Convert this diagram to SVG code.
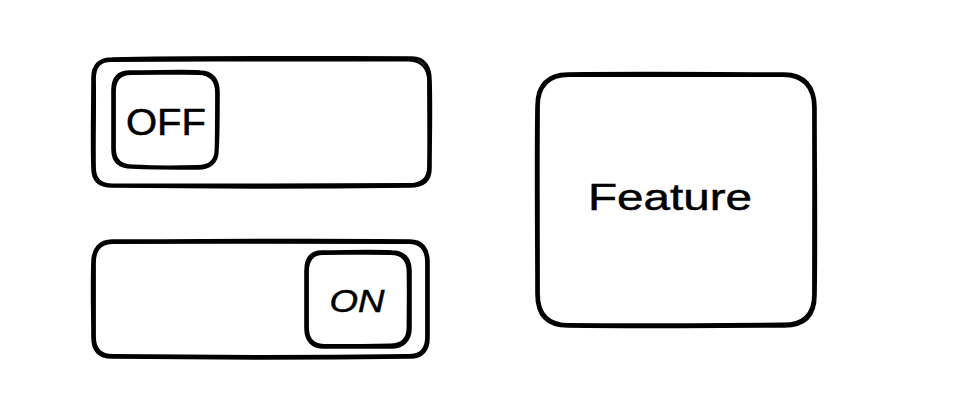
<svg xmlns="http://www.w3.org/2000/svg" width="956" height="414" viewBox="0 0 956 414">
<style>
.s{fill:none;stroke:#000;stroke-linecap:round;stroke-linejoin:round}
.a{stroke-width:3.6}
.b{stroke-width:2.8}
.t{font-family:"Comic Sans MS","Liberation Sans",sans-serif;fill:#000;stroke:#000;stroke-width:0.5;text-anchor:middle;dominant-baseline:central}
</style>
<rect width="956" height="414" fill="#fff"/>
<g id="off-track">
<path class="s a" d="M112 59 C200 57 330 58 412 58 C425 58 430 68 430 80 C431 110 430 140 430 168 C430 180 424 186 410 186 C320 187 200 187 112 186 C98 186 93 180 93 168 C92 140 93 110 93 78 C93 65 100 59 112 59 Z"/>
<path class="s b" d="M111 60.5 C210 60 320 60 409 60 C422 60.5 428.5 69 428.5 81 C428.5 112 429 142 428.5 167 C428.5 178 423 184.5 409 184.5 C320 184.5 200 185.5 113 185 C100 185 94.5 179 94.5 167 C94 140 95 110 94.5 79 C94.5 67 99 60.5 111 60.5 Z"/>
</g>
<g id="off-knob">
<path class="s a" d="M130 72 C160 72 185 71 200 72 C212 72 218 80 218 92 C218 112 218 135 217 150 C217 162 210 168 198 168 C175 168 152 168 132 167 C119 167 113 161 113 149 C113 130 113 110 113 90 C113 78 119 72 130 72 Z"/>
<path class="s b" d="M131 73.5 C160 73 185 73.5 199 73.5 C210.5 73.5 216.5 81 216.5 92.5 C216.5 113 216.5 134 216 149.5 C216 160.5 209 166.5 197.5 166.5 C176 167 152 167 133 166 C120.5 166 114.5 160 114.5 148.5 C114.5 130 114.5 110 114.5 91 C114.5 79.5 120 73.5 131 73.5 Z"/>
<text class="t" x="166" y="122" font-size="36" textLength="80" lengthAdjust="spacingAndGlyphs">OFF</text>
</g>
<g id="on-track">
<path class="s a" d="M112 241 C200 241 320 240 410 241 C422 241 428 249 428 262 C428 290 428 315 428 338 C428 350 422 357 410 357 C320 358 200 358 112 357 C99 357 93 350 93 337 C93 312 92 288 93 262 C93 249 100 241 112 241 Z"/>
<path class="s b" d="M113 242.5 C210 242 320 242.5 409 242.5 C420.5 242.5 426.5 250 426.5 262.5 C426.5 290 426.5 314 426.5 337 C426.5 348.5 420.5 355.5 409 355.5 C320 356.5 200 356.5 112.5 355.5 C100.5 355.5 94.5 349 94.5 336.5 C94.5 312 94.5 288 94.5 262.5 C94.5 250 101 242.5 113 242.5 Z"/>
</g>
<g id="on-knob">
<path class="s a" d="M322 252 C345 252 370 251 392 252 C404 252 410 259 410 271 C410 292 410 312 410 328 C410 340 403 347 391 347 C368 347 345 347 324 347 C312 347 306 340 306 328 C306 310 306 290 306 271 C306 259 311 252 322 252 Z"/>
<path class="s b" d="M323 253.5 C346 253.5 370 253 390.5 253.5 C402 253.5 408 260.5 408 271.5 C408.5 292 408 311.5 408 327.5 C408 338.5 401.5 345 390 345 C368 345.5 346 345.5 325 345.5 C313.5 345.5 307.5 339 307.5 327.5 C307.5 310 307.5 290 307.5 271.5 C307.5 260.5 312.5 253.5 323 253.5 Z"/>
<text class="t" x="357" y="301" font-size="32" font-style="italic" textLength="55" lengthAdjust="spacingAndGlyphs">ON</text>
</g>
<g id="feature">
<path class="s a" d="M568 74 C650 73 720 74 784 74 C804 74 815 86 815 108 C815 170 816 240 815 295 C815 315 805 326 784 326 C720 326 650 327 568 326 C547 326 537 315 537 294 C537 240 536 170 537 106 C537 86 547 74 568 74 Z"/>
<path class="s b" d="M569 75.5 C650 75 720 75.5 783 75.5 C802.5 75.5 813.5 87 813.5 108 C813.5 170 814 240 813.5 294.5 C813.5 313.5 803.5 324 783.5 324 C720 324.5 650 325 569 324.5 C549 324.5 538.5 314 538.5 294 C538.5 240 538 170 538.5 106.5 C538.5 87 548.5 75.5 569 75.5 Z"/>
<text class="t" x="670" y="197" font-size="37" textLength="164" lengthAdjust="spacingAndGlyphs">Feature</text>
</g>
<g id="connectors"/>
</svg>
